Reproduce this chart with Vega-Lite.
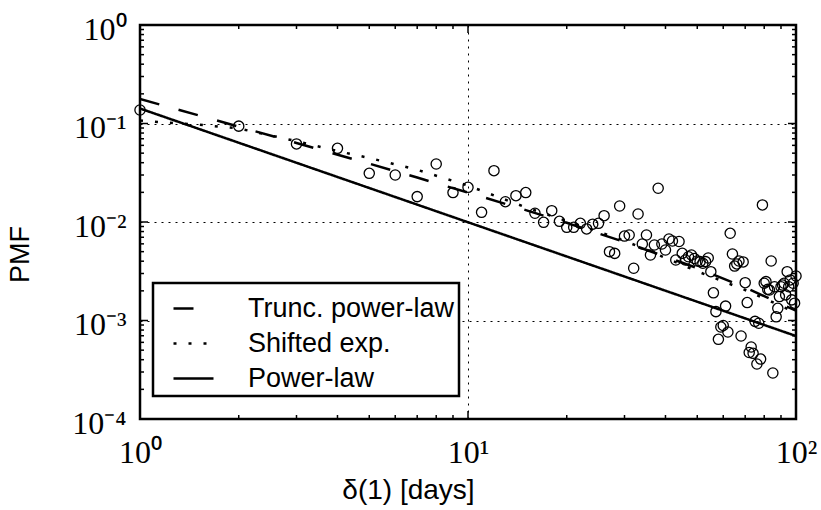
{
  "$schema": "https://vega.github.io/schema/vega-lite/v6.json",
  "width": 656,
  "height": 394,
  "autosize": {"type": "none"},
  "padding": {"left": 140, "top": 25, "right": 25, "bottom": 91},
  "background": "white",
  "config": {
    "view": {"stroke": "black", "strokeWidth": 2.5},
    "axis": {
      "domain": false,
      "gridColor": "black",
      "gridDash": [2, 5],
      "gridWidth": 1,
      "gridOpacity": 1,
      "labelColor": "black",
      "titleColor": "black"
    },
    "legend": {"strokeWidth": 2.5, "strokeColor": "black", "fillColor": "white", "cornerRadius": 0}
  },
  "datasets": {
    "pts": [
      {"d": 1, "pmf": 0.137}, {"d": 2, "pmf": 0.094}, {"d": 3, "pmf": 0.062}, {"d": 4, "pmf": 0.056},
      {"d": 5, "pmf": 0.0312}, {"d": 6, "pmf": 0.030}, {"d": 7, "pmf": 0.0181}, {"d": 8, "pmf": 0.0388},
      {"d": 9, "pmf": 0.0199}, {"d": 10, "pmf": 0.0225}, {"d": 11, "pmf": 0.01254}, {"d": 12, "pmf": 0.0332},
      {"d": 13, "pmf": 0.01607}, {"d": 14, "pmf": 0.0185}, {"d": 15, "pmf": 0.0199}, {"d": 16, "pmf": 0.01226},
      {"d": 17, "pmf": 0.00993}, {"d": 18, "pmf": 0.01303}, {"d": 19, "pmf": 0.01016}, {"d": 20, "pmf": 0.00883},
      {"d": 21, "pmf": 0.00883}, {"d": 22, "pmf": 0.0097}, {"d": 23, "pmf": 0.0085}, {"d": 24, "pmf": 0.0095},
      {"d": 25, "pmf": 0.0097}, {"d": 26, "pmf": 0.01159}, {"d": 27, "pmf": 0.005}, {"d": 28, "pmf": 0.0048},
      {"d": 29, "pmf": 0.01453}, {"d": 30, "pmf": 0.0072}, {"d": 31, "pmf": 0.00738}, {"d": 32, "pmf": 0.00339},
      {"d": 33, "pmf": 0.01205}, {"d": 34, "pmf": 0.00598}, {"d": 35, "pmf": 0.00738}, {"d": 36, "pmf": 0.00462},
      {"d": 37, "pmf": 0.00584}, {"d": 38, "pmf": 0.022}, {"d": 39, "pmf": 0.00598}, {"d": 40, "pmf": 0.0052},
      {"d": 41, "pmf": 0.00672}, {"d": 42, "pmf": 0.00641}, {"d": 43, "pmf": 0.00411}, {"d": 44, "pmf": 0.00634},
      {"d": 45, "pmf": 0.00481}, {"d": 46, "pmf": 0.00411}, {"d": 47, "pmf": 0.00444}, {"d": 48, "pmf": 0.00462},
      {"d": 49, "pmf": 0.00426}, {"d": 50, "pmf": 0.00402}, {"d": 51, "pmf": 0.00396}, {"d": 52, "pmf": 0.00381},
      {"d": 53, "pmf": 0.00396}, {"d": 54, "pmf": 0.00431}, {"d": 55, "pmf": 0.00313}, {"d": 56, "pmf": 0.00191},
      {"d": 57, "pmf": 0.00123}, {"d": 58, "pmf": 0.000644}, {"d": 59, "pmf": 0.000859}, {"d": 60, "pmf": 0.000889},
      {"d": 61, "pmf": 0.0014}, {"d": 62, "pmf": 0.000764}, {"d": 63, "pmf": 0.00768}, {"d": 64, "pmf": 0.00473},
      {"d": 65, "pmf": 0.00357}, {"d": 66, "pmf": 0.00375}, {"d": 67, "pmf": 0.00402}, {"d": 68, "pmf": 0.000696},
      {"d": 69, "pmf": 0.00393}, {"d": 70, "pmf": 0.00242}, {"d": 71, "pmf": 0.00152}, {"d": 72, "pmf": 0.000473},
      {"d": 73, "pmf": 0.000538}, {"d": 74, "pmf": 0.000464}, {"d": 75, "pmf": 0.00098}, {"d": 76, "pmf": 0.000362},
      {"d": 77, "pmf": 0.000937}, {"d": 78, "pmf": 0.000406}, {"d": 79, "pmf": 0.0149}, {"d": 80, "pmf": 0.00239},
      {"d": 81, "pmf": 0.00248}, {"d": 82, "pmf": 0.00207}, {"d": 83, "pmf": 0.00204}, {"d": 84, "pmf": 0.00402},
      {"d": 85, "pmf": 0.000293}, {"d": 86, "pmf": 0.0022}, {"d": 87, "pmf": 0.00109}, {"d": 88, "pmf": 0.00133},
      {"d": 89, "pmf": 0.00175}, {"d": 90, "pmf": 0.0022}, {"d": 91, "pmf": 0.00229}, {"d": 92, "pmf": 0.00239},
      {"d": 93, "pmf": 0.00182}, {"d": 94, "pmf": 0.00313}, {"d": 95, "pmf": 0.0022}, {"d": 96, "pmf": 0.00258},
      {"d": 97, "pmf": 0.00162}, {"d": 98, "pmf": 0.00239}, {"d": 99, "pmf": 0.0015}, {"d": 100, "pmf": 0.00283}
    ],
    "fits": [
      {"model": "Trunc. power-law", "d": 1, "pmf": 0.1774},
      {"model": "Trunc. power-law", "d": 1.5, "pmf": 0.1216},
      {"model": "Trunc. power-law", "d": 2, "pmf": 0.0929},
      {"model": "Trunc. power-law", "d": 3, "pmf": 0.0635},
      {"model": "Trunc. power-law", "d": 5, "pmf": 0.0391},
      {"model": "Trunc. power-law", "d": 7, "pmf": 0.02825},
      {"model": "Trunc. power-law", "d": 10, "pmf": 0.0199},
      {"model": "Trunc. power-law", "d": 15, "pmf": 0.01321},
      {"model": "Trunc. power-law", "d": 20, "pmf": 0.00979},
      {"model": "Trunc. power-law", "d": 30, "pmf": 0.00627},
      {"model": "Trunc. power-law", "d": 50, "pmf": 0.0034},
      {"model": "Trunc. power-law", "d": 70, "pmf": 0.00216},
      {"model": "Trunc. power-law", "d": 100, "pmf": 0.001257},
      {"model": "Shifted exp.", "d": 1, "pmf": 0.1072},
      {"model": "Shifted exp.", "d": 1.2, "pmf": 0.1023},
      {"model": "Shifted exp.", "d": 1.5, "pmf": 0.0977},
      {"model": "Shifted exp.", "d": 2, "pmf": 0.0891},
      {"model": "Shifted exp.", "d": 3, "pmf": 0.0661},
      {"model": "Shifted exp.", "d": 4, "pmf": 0.0525},
      {"model": "Shifted exp.", "d": 5, "pmf": 0.0447},
      {"model": "Shifted exp.", "d": 7, "pmf": 0.0339},
      {"model": "Shifted exp.", "d": 10, "pmf": 0.0234},
      {"model": "Shifted exp.", "d": 15, "pmf": 0.0141},
      {"model": "Shifted exp.", "d": 20, "pmf": 0.01023},
      {"model": "Shifted exp.", "d": 30, "pmf": 0.00646},
      {"model": "Shifted exp.", "d": 50, "pmf": 0.00316},
      {"model": "Shifted exp.", "d": 70, "pmf": 0.00204},
      {"model": "Shifted exp.", "d": 100, "pmf": 0.0012},
      {"model": "Power-law", "d": 1, "pmf": 0.142},
      {"model": "Power-law", "d": 100, "pmf": 0.000696}
    ],
    "xt": [
      {"v": 1, "k": "major"}, {"v": 2, "k": "minor"}, {"v": 3, "k": "minor"}, {"v": 4, "k": "minor"}, {"v": 5, "k": "minor"},
      {"v": 6, "k": "minor"}, {"v": 7, "k": "minor"}, {"v": 8, "k": "minor"}, {"v": 9, "k": "minor"}, {"v": 10, "k": "major"},
      {"v": 20, "k": "minor"}, {"v": 30, "k": "minor"}, {"v": 40, "k": "minor"}, {"v": 50, "k": "minor"}, {"v": 60, "k": "minor"},
      {"v": 70, "k": "minor"}, {"v": 80, "k": "minor"}, {"v": 90, "k": "minor"}, {"v": 100, "k": "major"}
    ],
    "yt": [
      {"v": 0.0001, "k": "major"}, {"v": 0.0002, "k": "minor"}, {"v": 0.0003, "k": "minor"}, {"v": 0.0004, "k": "minor"}, {"v": 0.0005, "k": "minor"},
      {"v": 0.0006, "k": "minor"}, {"v": 0.0007, "k": "minor"}, {"v": 0.0008, "k": "minor"}, {"v": 0.0009, "k": "minor"},
      {"v": 0.001, "k": "major"}, {"v": 0.002, "k": "minor"}, {"v": 0.003, "k": "minor"}, {"v": 0.004, "k": "minor"}, {"v": 0.005, "k": "minor"},
      {"v": 0.006, "k": "minor"}, {"v": 0.007, "k": "minor"}, {"v": 0.008, "k": "minor"}, {"v": 0.009, "k": "minor"},
      {"v": 0.01, "k": "major"}, {"v": 0.02, "k": "minor"}, {"v": 0.03, "k": "minor"}, {"v": 0.04, "k": "minor"}, {"v": 0.05, "k": "minor"},
      {"v": 0.06, "k": "minor"}, {"v": 0.07, "k": "minor"}, {"v": 0.08, "k": "minor"}, {"v": 0.09, "k": "minor"},
      {"v": 0.1, "k": "major"}, {"v": 0.2, "k": "minor"}, {"v": 0.3, "k": "minor"}, {"v": 0.4, "k": "minor"}, {"v": 0.5, "k": "minor"},
      {"v": 0.6, "k": "minor"}, {"v": 0.7, "k": "minor"}, {"v": 0.8, "k": "minor"}, {"v": 0.9, "k": "minor"},
      {"v": 1, "k": "major"}
    ]
  },
  "layer": [
    {
      "data": {"name": "pts"},
      "mark": {"type": "point", "shape": "circle", "filled": false, "stroke": "black", "strokeWidth": 1.3, "size": 105, "opacity": 1},
      "encoding": {
        "x": {
          "field": "d", "type": "quantitative",
          "scale": {"type": "log", "domain": [1, 100], "nice": false},
          "axis": {
            "orient": "bottom", "values": [1, 10, 100], "grid": true, "ticks": false,
            "labelPadding": 43, "labelBaseline": "alphabetic", "labelFont": "Liberation Serif", "labelFontSize": 32,
            "labelFlush": false, "labelOverlap": false,
            "labelExpr": "datum.value < 5 ? '10⁰' : datum.value < 50 ? '10¹' : '10²'",
            "title": "δ(1) [days]", "titleFont": "Liberation Sans", "titleFontSize": 28, "titleFontWeight": "normal",
            "titleX": 268, "titleY": 79, "titleBaseline": "alphabetic", "titleAlign": "center"
          }
        },
        "y": {
          "field": "pmf", "type": "quantitative",
          "scale": {"type": "log", "domain": [0.0001, 1], "nice": false},
          "axis": {
            "orient": "left", "values": [0.0001, 0.001, 0.01, 0.1, 1], "grid": true, "ticks": false,
            "labelPadding": 14, "labelBaseline": "alphabetic", "labelOffset": 14, "labelFont": "Liberation Serif", "labelFontSize": 32,
            "labelFlush": false, "labelOverlap": false,
            "labelExpr": "datum.value < 0.0005 ? '10⁻⁴' : datum.value < 0.005 ? '10⁻³' : datum.value < 0.05 ? '10⁻²' : datum.value < 0.5 ? '10⁻¹' : '10⁰'",
            "title": "PMF", "titleFont": "Liberation Sans", "titleFontSize": 27, "titleFontWeight": "normal",
            "titleAngle": -90, "titleX": -120, "titleY": 229, "titleBaseline": "middle", "titleAlign": "center"
          }
        }
      }
    },
    {
      "data": {"name": "fits"},
      "mark": {"type": "line", "color": "black", "strokeWidth": 2.5, "clip": true, "strokeCap": "butt"},
      "encoding": {
        "x": {"field": "d", "type": "quantitative", "scale": {"type": "log", "domain": [1, 100], "nice": false}},
        "y": {"field": "pmf", "type": "quantitative", "scale": {"type": "log", "domain": [0.0001, 1], "nice": false}},
        "strokeDash": {
          "field": "model", "type": "nominal",
          "scale": {"domain": ["Trunc. power-law", "Shifted exp.", "Power-law"], "range": [[20, 20], [3, 12], [1, 0]]},
          "legend": {
            "title": null, "orient": "none", "legendX": 13, "legendY": 258, "direction": "vertical",
            "padding": 4, "symbolType": "stroke", "symbolStrokeWidth": 2.5, "symbolStrokeColor": "black",
            "symbolSize": 1600, "symbolOffset": 15, "labelFont": "Liberation Sans", "labelFontSize": 27,
            "labelOffset": 33, "rowPadding": 0, "labelColor": "black", "labelLimit": 400
          }
        }
      }
    },
    {
      "data": {"name": "xt"},
      "mark": {"type": "tick", "orient": "vertical", "color": "black", "thickness": 1.5, "clip": true, "opacity": 1},
      "encoding": {
        "x": {"field": "v", "type": "quantitative", "scale": {"type": "log", "domain": [1, 100], "nice": false}},
        "y": {"datum": 0.0001, "type": "quantitative", "scale": {"type": "log", "domain": [0.0001, 1], "nice": false}},
        "size": {"field": "k", "type": "nominal", "scale": {"domain": ["major", "minor"], "range": [16, 8]}, "legend": null}
      }
    },
    {
      "data": {"name": "xt"},
      "mark": {"type": "tick", "orient": "vertical", "color": "black", "thickness": 1.5, "clip": true, "opacity": 1},
      "encoding": {
        "x": {"field": "v", "type": "quantitative", "scale": {"type": "log", "domain": [1, 100], "nice": false}},
        "y": {"datum": 1, "type": "quantitative", "scale": {"type": "log", "domain": [0.0001, 1], "nice": false}},
        "size": {"field": "k", "type": "nominal", "scale": {"domain": ["major", "minor"], "range": [16, 8]}, "legend": null}
      }
    },
    {
      "data": {"name": "yt"},
      "mark": {"type": "tick", "orient": "horizontal", "color": "black", "thickness": 1.5, "clip": true, "opacity": 1},
      "encoding": {
        "y": {"field": "v", "type": "quantitative", "scale": {"type": "log", "domain": [0.0001, 1], "nice": false}},
        "x": {"datum": 1, "type": "quantitative", "scale": {"type": "log", "domain": [1, 100], "nice": false}},
        "size": {"field": "k", "type": "nominal", "scale": {"domain": ["major", "minor"], "range": [16, 8]}, "legend": null}
      }
    },
    {
      "data": {"name": "yt"},
      "mark": {"type": "tick", "orient": "horizontal", "color": "black", "thickness": 1.5, "clip": true, "opacity": 1},
      "encoding": {
        "y": {"field": "v", "type": "quantitative", "scale": {"type": "log", "domain": [0.0001, 1], "nice": false}},
        "x": {"datum": 100, "type": "quantitative", "scale": {"type": "log", "domain": [1, 100], "nice": false}},
        "size": {"field": "k", "type": "nominal", "scale": {"domain": ["major", "minor"], "range": [16, 8]}, "legend": null}
      }
    }
  ]
}
